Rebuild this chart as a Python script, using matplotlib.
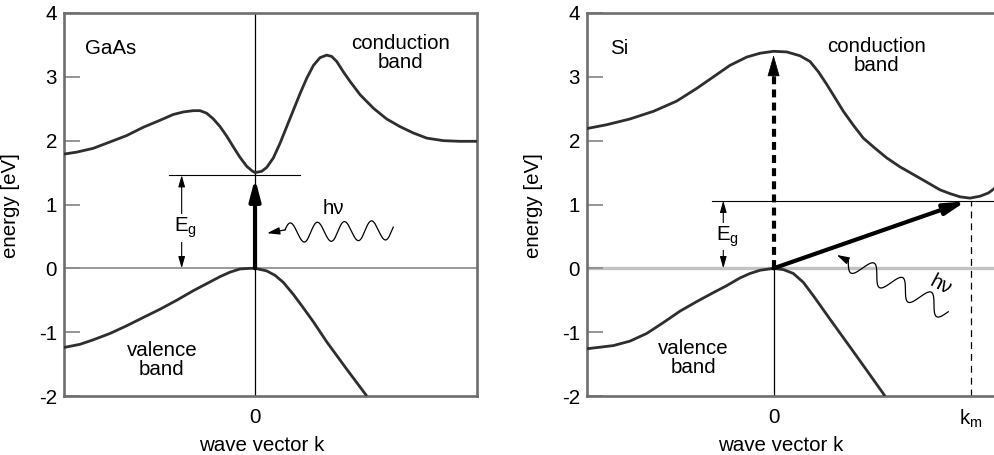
import numpy as np
import matplotlib.pyplot as plt

plt.rcParams['font.family'] = ['Liberation Sans', 'DejaVu Sans']
plt.rcParams['axes.unicode_minus'] = False
plt.rcParams['mathtext.default'] = 'regular'

FS = 14.8

# GaAs: direct gap, band edges at k = 0 (k in arbitrary units, E in eV)
gaas_cb_k = [-1.0, -0.934, -0.847, -0.759, -0.672, -0.585, -0.497, -0.428, -0.375, -0.323,
             -0.288, -0.253, -0.218, -0.183, -0.148, -0.113, -0.079, -0.044, -0.017, 0.0,
             0.035, 0.061, 0.096, 0.131, 0.166, 0.201, 0.236, 0.271, 0.306, 0.340,
             0.375, 0.401, 0.428, 0.462, 0.497, 0.550, 0.619, 0.689, 0.759, 0.829,
             0.899, 0.986, 1.073, 1.162]
gaas_cb_e = [1.79, 1.82, 1.88, 1.98, 2.08, 2.21, 2.32, 2.41, 2.45, 2.47,
             2.47, 2.43, 2.34, 2.22, 2.07, 1.90, 1.74, 1.60, 1.53, 1.50,
             1.52, 1.58, 1.73, 1.96, 2.22, 2.48, 2.74, 2.98, 3.18, 3.30,
             3.34, 3.32, 3.24, 3.08, 2.93, 2.72, 2.51, 2.34, 2.22, 2.12,
             2.04, 2.00, 1.99, 1.99]
gaas_vb_k = [-1.0, -0.916, -0.847, -0.759, -0.672, -0.585, -0.497, -0.410, -0.323, -0.253,
             -0.183, -0.131, -0.079, -0.026, 0.0, 0.061, 0.105, 0.148, 0.201, 0.253,
             0.306, 0.375, 0.480, 0.585]
gaas_vb_e = [-1.24, -1.19, -1.12, -1.02, -0.90, -0.77, -0.64, -0.50, -0.35, -0.24,
             -0.13, -0.06, -0.01, 0.0, 0.0, -0.04, -0.11, -0.22, -0.41, -0.62,
             -0.84, -1.15, -1.58, -2.0]
gaas_gap = 1.46

# Si: indirect gap, conduction minimum at k_m
si_cb_k = [-0.946, -0.846, -0.728, -0.609, -0.491, -0.389, -0.305, -0.221, -0.136, -0.068,
           0.0, 0.067, 0.134, 0.185, 0.227, 0.270, 0.312, 0.354, 0.405, 0.455,
           0.515, 0.574, 0.641, 0.709, 0.777, 0.844, 0.895, 0.946, 0.996, 1.047,
           1.089, 1.133]
si_cb_e = [2.19, 2.25, 2.34, 2.46, 2.62, 2.82, 3.00, 3.18, 3.31, 3.37,
           3.40, 3.39, 3.33, 3.24, 3.08, 2.88, 2.67, 2.46, 2.24, 2.04,
           1.88, 1.73, 1.59, 1.47, 1.35, 1.23, 1.17, 1.12, 1.10, 1.13,
           1.18, 1.28]
si_vb_k = [-0.946, -0.812, -0.728, -0.643, -0.559, -0.474, -0.389, -0.305, -0.237, -0.170,
           -0.119, -0.068, 0.0, 0.050, 0.100, 0.151, 0.202, 0.287, 0.371, 0.473,
           0.565]
si_vb_e = [-1.26, -1.21, -1.14, -1.02, -0.85, -0.67, -0.52, -0.38, -0.27, -0.15,
           -0.08, -0.03, 0.0, -0.02, -0.08, -0.22, -0.43, -0.80, -1.16, -1.60,
           -2.0]
si_gap = 1.06
si_km = 1.0
si_direct = 3.34

energy_ticks = [-2, -1, 0, 1, 2, 3, 4]

fig = plt.figure(figsize=(9.94, 4.55), dpi=100)
ax1 = fig.add_axes([64 / 994, 59 / 455, 413 / 994, 383 / 455])
ax2 = fig.add_axes([587 / 994, 59 / 455, 410 / 994, 383 / 455])
ax1.set_xlim(-1.0, 1.162)
ax2.set_xlim(-0.946, 1.133)

band_kw = dict(color='#2e2e2e', lw=2.0, solid_capstyle='butt', solid_joinstyle='round',
               zorder=3)


def frame(ax, xlabel_x):
    ax.set_ylim(-2, 4)
    ax.set_yticks(energy_ticks)
    ax.set_yticklabels([str(t) for t in energy_ticks])
    for sp in ax.spines.values():
        sp.set_color('#6e6e6e')
        sp.set_linewidth(1.9)
    ax.tick_params(axis='y', direction='in', length=11.5, width=1.3,
                   color='#8c8c8c', labelsize=FS, pad=5)
    ax.tick_params(axis='x', length=0, labelsize=FS, pad=8.5)
    ax.set_ylabel('energy [eV]', fontsize=FS)
    ax.yaxis.set_label_coords(-0.107, 0.496)
    ax.set_xlabel('wave vector k', fontsize=FS)
    ax.xaxis.set_label_coords(xlabel_x, -0.128)
    ax.xaxis.label.set_verticalalignment('center')


def photon(ax, tail, tip, lead_px, periods, phase, amp_pt=7.0):
    # wavy photon line from tail towards tip, ending in a short arrow
    tr = ax.transData
    p0 = tr.transform(tail)
    p1 = tr.transform(tip)
    d = p1 - p0
    length = np.hypot(*d)
    u = d / length
    n = np.array([-u[1], u[0]])
    wave_len = length - lead_px
    s = np.linspace(0, wave_len, 400)
    off = amp_pt * fig.dpi / 72 * np.sin(2 * np.pi * periods * s / wave_len + phase)
    pts = p0 + np.outer(s, u) + np.outer(off, n)
    pts = tr.inverted().transform(pts)
    ax.plot(pts[:, 0], pts[:, 1], color='k', lw=0.9, zorder=4)
    ax.annotate('', xy=tip, xytext=tuple(pts[-1]),
                arrowprops=dict(arrowstyle='-|>,head_length=0.75,head_width=0.22',
                                color='k', lw=0.9, shrinkA=0, shrinkB=0), zorder=4)


def gap_arrow(ax, x, top, label_y):
    ax.annotate('', xy=(x, top), xytext=(x, 0),
                arrowprops=dict(arrowstyle='<|-|>,head_length=0.7,head_width=0.2',
                                color='k', lw=0.8, shrinkA=0, shrinkB=0), zorder=4)
    ax.text(x + 0.02, label_y, r'E$_g$', fontsize=FS, ha='center', va='center', zorder=5,
            bbox=dict(facecolor='white', edgecolor='none', pad=1.0))


thick = dict(arrowstyle='-|>,head_length=1.25,head_width=0.33', color='k', lw=3,
             shrinkA=0, shrinkB=0)

# ---- GaAs ----
frame(ax1, 0.479)
ax1.set_xticks([0])
ax1.set_xticklabels(['0'])
ax1.axhline(0, color='#9a9a9a', lw=1.4, zorder=1)
ax1.axvline(0, color='k', lw=0.9, zorder=2)
ax1.plot(gaas_cb_k, gaas_cb_e, **band_kw)
ax1.plot(gaas_vb_k, gaas_vb_e, **band_kw)
ax1.plot([-0.45, 0.236], [gaas_gap, gaas_gap], color='k', lw=0.8, zorder=2)
gap_arrow(ax1, -0.384, gaas_gap, 0.63)
ax1.annotate('', xy=(0, gaas_gap - 0.05), xytext=(0, 0), arrowprops=thick, zorder=5)
photon(ax1, (0.724, 0.60), (0.063, 0.55), 18, 4.0, -0.3)
ax1.text(0.408, 0.94, 'h\u03bd', fontsize=FS, ha='center', va='center')
ax1.text(-0.89, 3.44, 'GaAs', fontsize=FS, ha='left', va='center')
ax1.text(0.76, 3.37, 'conduction\nband', fontsize=FS, ha='center', va='center', linespacing=1.0)
ax1.text(-0.487, -1.43, 'valence\nband', fontsize=FS, ha='center', va='center', linespacing=1.0)

# ---- Si ----
frame(ax2, 0.473)
ax2.set_xticks([0, si_km])
ax2.set_xticklabels(['0', r'k$_m$'])
ax2.axhline(0, color='#c2c2c2', lw=2.4, zorder=1)
ax2.plot([0, 0], [-2, 0], color='k', lw=0.9, zorder=2)
ax2.plot(si_cb_k, si_cb_e, **band_kw)
ax2.plot(si_vb_k, si_vb_e, **band_kw)
ax2.plot([-0.313, 1.133], [si_gap, si_gap], color='k', lw=0.8, zorder=2)
ax2.plot([si_km, si_km], [-2, si_gap], color='k', lw=0.9, dashes=(5.5, 4), zorder=2)
gap_arrow(ax2, -0.255, si_gap, 0.50)
# direct transition (dashed) and indirect transition via k_m
head_base = si_direct - 0.33
ax2.plot([0, 0], [0, head_base], color='k', lw=3, dashes=(1.9, 1.25),
         dash_capstyle='butt', zorder=5)
ax2.annotate('', xy=(0, si_direct), xytext=(0, head_base - 0.01),
             arrowprops=dict(arrowstyle='-|>,head_length=1.4,head_width=0.4', color='k',
                             lw=0.5, shrinkA=0, shrinkB=0), zorder=5)
ax2.annotate('', xy=(si_km - 0.025, si_gap - 0.01), xytext=(0, 0), arrowprops=thick, zorder=5)
photon(ax2, (0.886, -0.68), (0.320, 0.21), 13, 3.5, 0.0)
ax2.text(0.848, -0.26, 'h\u03bd', fontsize=FS, ha='center', va='center', rotation=-28)
ax2.text(-0.829, 3.44, 'Si', fontsize=FS, ha='left', va='center')
ax2.text(0.523, 3.33, 'conduction\nband', fontsize=FS, ha='center', va='center', linespacing=1.0)
ax2.text(-0.407, -1.41, 'valence\nband', fontsize=FS, ha='center', va='center', linespacing=1.0)

fig.savefig('out.png', dpi=100)
